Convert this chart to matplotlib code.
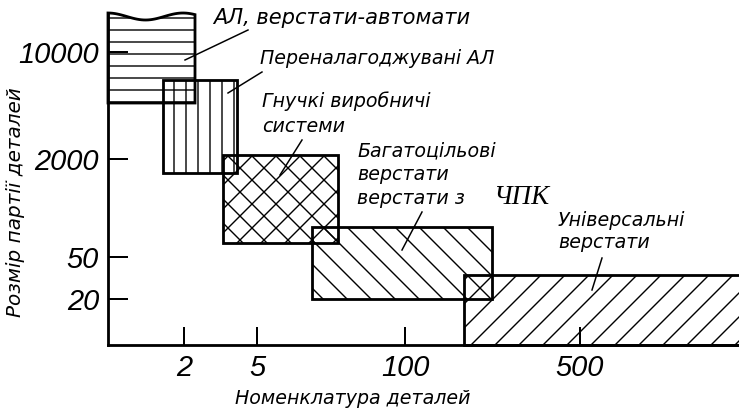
import matplotlib
matplotlib.use('Agg')
import matplotlib.pyplot as plt
import numpy as np
from matplotlib.patches import Rectangle, Polygon

plt.rcParams['font.family'] = ['Liberation Sans', 'DejaVu Sans']
plt.rcParams['hatch.linewidth'] = 1.4
plt.rcParams['hatch.color'] = 'black'

# Axis ticks (schematic positions) and labels
x_ticks = [76, 149, 297, 472]
x_labels = ['2', '5', '100', '500']
y_ticks = [46, 88, 186, 293]
y_labels = ['20', '50', '2000', '10000']

# Regions of equipment types (schematic units)
box_x0 = [0, 55, 115, 204, 356]
box_x1 = [87, 129, 230, 384, 700]
box_y0 = [242, 172, 102, 46, 0]
box_y1 = [332, 265, 190, 118, 70]
hatches = ['-', '|', 'x', '\\', '/']

# Annotation labels: (lines, x, y, size)
label_lines = ['АЛ, верстати-автомати', 'Переналагоджувані АЛ',
               'Гнучкі виробничі', 'системи',
               'Багатоцільові', 'верстати', 'верстати з',
               'Універсальні', 'верстати']
label_x = [105, 152, 154, 154, 249, 249, 249, 450, 450]
label_y = [327, 286, 244, 218, 194, 170, 146, 124, 102]
label_size = [21, 19, 19, 19, 19, 19, 19, 19, 19]

# Leader lines
lead_x0 = [140, 154, 194, 314, 494]
lead_y0 = [315, 273, 205, 133, 87]
lead_x1 = [77, 120, 172, 294, 484]
lead_y1 = [285, 252, 170, 95, 55]

W, H = 739, 416
fig = plt.figure(figsize=(W / 72, H / 72), dpi=72)
ax = fig.add_axes([108 / W, 71 / H, 631 / W, 332 / H])
ax.set_xlim(0, 631)
ax.set_ylim(0, 332)
ax.patch.set_alpha(0)
for s in ['top', 'right']:
    ax.spines[s].set_visible(False)
for s in ['left', 'bottom']:
    ax.spines[s].set_linewidth(2.8)

ax.set_xticks(x_ticks)
ax.set_xticklabels(x_labels, fontsize=29, fontstyle='italic')
ax.set_yticks(y_ticks)
ax.set_yticklabels(y_labels, fontsize=29, fontstyle='italic')
ax.tick_params(axis='x', direction='in', length=18, width=2, pad=9)
ax.tick_params(axis='y', direction='in', length=20, width=2, pad=9)

lw = 2.8
for i in range(len(box_x0)):
    x0, x1, y0, y1 = box_x0[i], box_x1[i], box_y0[i], box_y1[i]
    if i == 0:
        xs = np.linspace(x0, x1, 40)
        top = y1 - 3.5 + 3.5 * np.cos(2 * np.pi * (xs - x0) / 75)
        pts = [(x0, y0)] + list(zip(xs, top)) + [(x1, y0)]
        p = Polygon(pts, closed=True, facecolor='none', edgecolor='black',
                    hatch=hatches[i], lw=lw, clip_on=False, joinstyle='miter')
    else:
        p = Rectangle((x0, y0), x1 - x0, y1 - y0, facecolor='none',
                      edgecolor='black', hatch=hatches[i], lw=lw,
                      clip_on=False, joinstyle='miter')
    ax.add_patch(p)

for i in range(len(lead_x0)):
    ax.plot([lead_x0[i], lead_x1[i]], [lead_y0[i], lead_y1[i]],
            color='black', lw=1.5, clip_on=False)

ann_font = ['DejaVu Sans']
for t, x, y, s in zip(label_lines, label_x, label_y, label_size):
    ax.text(x, y, t, fontsize=s, fontstyle='italic', family=ann_font,
            ha='left', va='center', clip_on=False)
ax.text(385, 148, 'ЧПК', fontsize=27, fontstyle='italic',
        family=['Liberation Serif', 'DejaVu Serif'], ha='left', va='center')

ax.text(245, -53, 'Номенклатура деталей', fontsize=19, fontstyle='italic',
        family=ann_font, ha='center', va='center')
ax.text(-92, 143, 'Розмір партії деталей', fontsize=20, fontstyle='italic',
        family=ann_font, ha='center', va='center', rotation=90)

fig.savefig('out.png', dpi=72)
